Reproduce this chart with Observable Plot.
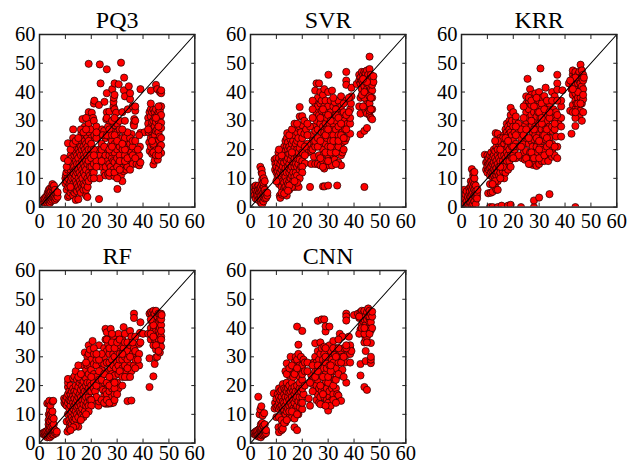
<!DOCTYPE html>
<html><head><meta charset="utf-8">
<script src="https://cdn.jsdelivr.net/npm/d3@7"></script>
<script src="https://cdn.jsdelivr.net/npm/@observablehq/plot@0.6"></script>
<style>
html,body{margin:0;padding:0;background:#fff}
#chart{position:relative;width:641px;height:464px;overflow:hidden}
#chart>div{position:absolute}
svg{display:block;background:transparent;overflow:visible}
</style></head><body><div id="chart"></div>
<script>
const tickValues=[0,10,20,30,40,50,60];
const diagonal=[0,60];
const pq3=[[1,2],[1.5,2.6],[2,1.5],[2,3.1],[2.6,2],[2.5,3.6],[3,1.5],[3.1,2.6],[3,4.1],[3.2,5],[3.5,2],[3.6,3],[3.5,4.6],[3.6,6],[4,1.4],[4.1,2.5],[4,3.5],[4,5],[4.1,6.5],[4.5,2],[4.6,3],[4.5,4],[4.4,5.5],[5,2.5],[5.1,3.5],[5,4.6],[5,6],[4.9,7],[5,8],[5.6,3],[5.5,4.5],[5.5,6.5],[5.6,7.5],[6,2.5],[6.1,3.5],[6,5],[6,6],[6.5,3],[6.6,4.5],[7,3.6],[7,5.1],
[9.5,17],[10,10],[10,8.2],[10.2,11],[10.5,9],[10.5,6],[10.4,12],[11,3.5],[11,22.2],[11.1,7],[11,10],[11,13],[11.5,4],[11.6,8],[11.5,15],[12,5],[12.1,9],[12,11],[12,13],[12.2,16],[12,18],[12.5,6],[12.6,10],[12.5,14],[12.4,17],[13,4],[13,8],[13.1,12],[13,15],[13.2,20],[13,24],[13,27],[13.5,5],[13.6,7],[13.5,10],[13.4,14],[13.5,18],[14,2.5],[14,6],[14.1,9],[14,11],[14,13],[14.1,16],[14,19],[14,21],[14.5,5.5],[14.5,8],[14.6,12],[14.5,15],[14.5,18],[15,2.7],[15,7],[15.1,10],[15,13],[15,17],[15.1,20],[15.5,6],[15.6,9],[15.5,12],[15.4,15],[15.5,19],[15.6,22],[16,5],[16,8],[16.1,11],[16,14],[16,18],[16,21],[16.2,25.6],[16.5,7],[16.6,10],[16.5,13],[16.5,16],[16.4,20],[16.6,30.6],[17,6],[17,8],[17.1,12],[17,15],[17,18],[17,21],[17.1,24],[17.5,7.5],[17.6,11],[17.5,14],[17.4,17],[17.5,20],[17.5,23],[17.5,28],[18,4],[18,6],[18.1,9],[18,13],[18,16],[18,19],[18,22],[18.1,25],[18.5,3.5],[18.6,7],[18.5,10],[18.5,15],[18.4,18],[18.5,21],[18.5,24.5],[19,9],[19.1,12],[19,16],[19,20],[19.1,26],[19,29],[19,33],[19,49.8],[19.5,11],[19.5,14],[19.6,18],[19.5,23],[20,10],[20.1,14],[20,17],[20,24],[20,27],[20.2,32.8],[20.5,12],[20.7,31],[21,15],[21.2,25],[21,30],[21,36],[21.2,37],[22,28],[22,16],[23,2.8],[23.2,10],[23,35.5],[23.3,49.6],[23,20],[23.6,18],[23.5,25],[23.6,43],
[24,14],[24.2,27],[25,12],[25,15.5],[25,17],[25,26.5],[25.1,36.6],[25.5,11],[25.6,14],[25.5,18],[25.5,24],[25.8,30.5],[26,33],[26,39.6],[26,47.9],[26.3,16],[26.4,20],[26.5,11.5],[26.5,28],[27,33.2],[27,10.8],[27,15],[27,18],[27.1,24.5],[27.2,30],[27.5,21.5],[27.5,14],[28,12],[28,17],[28,19],[28,23],[28,27],[28.1,41],[28.5,13],[28.5,16],[28.5,26],[28.6,35],[28.6,36.6],[28.7,38],[29,10.7],[29,15.6],[29,19],[29.1,22],[29,28.5],[29,34],[29,39],[29,43],[29.6,32.8],[30,12.5],[30.1,6.3],[30,17],[30,20],[30,26],[30,29],[30.6,42.7],[30.5,13.5],[30.5,15],[31,18],[31,21],[31,23.8],[31,27],[31.5,50.2],[31.5,11],[32,14],[32,16],[32.1,20],[32,24],[32,33],[32,9],[32.6,40.6],[32.7,45],[32.5,12.5],[33,18],[33,22],[33,26],[33,38.5],[33.5,15],[33.5,13],[34,20],[34,23],[34,14],[34.1,34],[34.5,42],[35,17],[35,22],[35,37.5],[35,39.6],[35.6,25.4],[35.5,19],[36,15],[36,35],[36,21],[36.6,30.6],[36.4,29],[36.5,28.3],[37,33.5],[37,30],[37,35],[37,19],[37.5,15],[38,17],[38.5,14.5],[38.5,18],[38.8,21],[39,25.8],[39,41],[39,15.5],[40.5,26],
[42,31],[42.2,26],[42,29],[42.4,22.5],[42.5,33],[42.6,19.5],[43,40.5],[43,34],[43,31.5],[43.1,28],[43,24],[43,21],[43.5,33],[43.5,29.5],[43.5,26],[43.5,18.5],[44,14.8],[44,34],[44,30],[44.1,27],[44,24.5],[44,21.5],[44.5,16.2],[44.5,33],[44.5,31],[44.5,28],[44.6,25],[44.5,19],[45,42.5],[45,34],[45,29.5],[45,26.5],[45,23],[45.1,20],[45.5,41],[45.5,32],[45.5,27],[45.5,22],[45.6,18],[45.7,16.5],[46,33],[46,30],[46,26],[46,23],[46.5,40],[46.6,35],[46.5,33.5],[46.5,31],[46.5,28],[46.5,24.5],[46.5,21],[46.7,19],[47,39.6],[47,40.6],[47,35],[47,32],[47,29.3],[47,27.5],[47,24],[47,21.5],[47,18.8],
[10.5,14],[11,16],[12,7],[12,20],[13,22],[14,23],[15,24],[16,27],[17,26],[18,27],[18,31],[19,23],[20,20],[20,22],[21,20],[21,18],[21,12],[21,10],[22,14],[22,24],[22,26],[24,16],[24,20],[24,22],[24.5,25],[25,21],[26,25],[26,31],[27,12],[27,20],[27,27],[28,21],[28,25],[28,30],[29,12],[29,25],[30,23],[30,10],[30,14],[31,16],[31,13],[33,20],[33,16],[33,24],[34,17],[35,24],[35,13],[36,18],[36,23],[37,23],[37,17],[38,20],[38.5,25],[34,26],[32,27],[32,22],[31,30],[33,30],[29,31],[43,36],[44,22],[44,19],[45,18],[46,18],[46,20],[46,28],[43.5,23],[45,31],[46,35],[42,27]];
const svr=[[1,5],[1.3,7],[1.5,4],[2,6],[2,3],[2,7.5],[2.5,5],[2.5,4],[2.7,7],[3,2.5],[3,4],[3,6],[3.1,7.5],[3.5,3],[3.5,5],[3.6,6.5],[4,1.5],[4,2.8],[4,4],[4.1,5.5],[4,7],[3.8,14],[4.3,12],[4.3,13],[4.5,1],[4.5,3],[4.6,4.5],[4.5,6],[4.5,8],[4.5,9.5],[4.5,11.5],[5,2],[5,3.5],[5,5],[5.1,7],[5,8.5],[5.1,10],[5.5,3],[5.5,4.5],[5.5,6],[5.5,9],[6,3.2],[6,5],[6.5,4],[6.5,5],
[9.3,16.5],[9.5,13],[9.6,15],[10,12],[10,14],[10,17],[10.5,10.5],[10.5,12.5],[10.5,15.5],[10.8,19],[11,8],[11,11],[11,13.5],[11,17],[11.3,4],[11.5,9],[11.5,12],[11.5,15],[11.5,3.2],[12,7],[12,10],[12,13],[12,16],[12.2,4.3],[12.5,9],[12.5,11.5],[12.5,14],[12.5,17],[12.5,20],[13,6.5],[13,8.5],[13,12],[13,15.5],[13,18],[13,21],[13.5,7],[13.5,10.5],[13.5,13.5],[13.5,17],[13.5,19.5],[13.5,23],[14,6],[14,9],[14,12],[14,16],[14,18],[14,21],[14,24],[14.2,25.7],[14.5,8],[14.5,14],[14.5,17],[14.5,20],[14.5,22.5],[15,9],[15,12],[15,15],[15,18.5],[15,21],[15.5,10],[15.5,13],[15.5,16.5],[15.5,20],[15.5,23.5],[16,11],[16,14],[16,18],[16,22],[16,25],[16.5,9],[16.5,12],[16.5,15.5],[16.5,19],[16.5,23],[17,10.5],[17,14],[17,17],[17,20.5],[17,25],[17.2,7],[17.5,12],[17.5,15],[17.5,18.5],[17.5,22],[17.5,28],[18,11],[18,14],[18,17],[18,20],[18,23],[18,26],[18.6,7],[18.5,15],[18.5,19],[18.5,24],[18.5,27.5],[19,13],[19,16.5],[19,20.5],[19,28],[19,31.5],[19,34.8],[19.5,14],[19.5,22],[19.5,26],[20,16],[20,24],[20,28.5],[20,31.6],[20.8,25.5],[20.8,30],[21,15.2],[21.5,27],[22,19],
[23,7],[23.3,25],[23.5,19.5],[23.5,15],[24.5,28],[24.5,17.5],[25,36],[25,40.5],[25,15],[25,26.5],[25.5,43],[25.5,33],[25.6,30],[26,38],[26,35],[26,27],[26,15],[26.5,43],[26.5,18],[26.5,32],[27,29],[27,36],[27,14.5],[27,40],[27.5,21],[27.5,26],[27.5,33.5],[27.5,37],[28,7.2],[28,16],[28,20],[28,24],[28,28],[28,31],[28,39],[28.6,7.2],[28.5,13.4],[28.5,18.5],[28.5,26],[28.5,35],[28.5,41],[29,22],[29,29],[29,33],[29,37],[29.5,15],[29.5,24],[29.5,27],[29.5,31],[30,7.5],[30,18],[30,21],[30,35],[30,40],[30.1,46],[30.5,14.5],[30.5,25],[30.5,29],[31,16],[31,23],[31,33],[31,37],[31.5,14.5],[31.5,27],[31.5,31],[31.5,40.5],[32,18],[32,21],[32,25],[32,29],[32,35],[32.5,16.5],[32.5,32],[32.5,36.5],[33,23],[33,27],[33,30],[33.5,7.5],[33.5,34],[34,19],[34,15.5],[34,25],[34,28],[34,37],[35,14.5],[35,18],[35,32],[35,35],[35,38.5],[35.5,22.5],[35.5,26],[35.5,19],[36,30],[36,33],[36.5,23],[36.5,27],[37,47],[37,44],[37,42.5],[37,37],[37,24],[37.5,29],[38.5,25.5],[38.5,29],[38.5,31],[38.5,34],[38.8,36],[39,38.5],[39,41.5],[41,42.8],
[42,35],[42.5,25.3],[42.5,32.5],[42,44],[42,46],[42.5,38],[42.5,43],[42.5,45],[43,47],[43,41],[43,44],[43.5,38.5],[43.5,46],[43.5,43],[44,7],[44,26.5],[44,42],[44,45],[44,47],[44.5,40],[44.5,43.5],[44.5,46.5],[44.5,33.5],[45,27.5],[45,37],[45,32.5],[45,41],[45,45],[45,47.5],[45.5,35],[45.5,39],[45.5,43],[45.5,46],[46,52.3],[46,32],[46,33.5],[46,36],[46,40.3],[46,42],[46,44.5],[46,48],[46.5,31],[46.5,41],[46.5,43.5],[46.5,46],[47,30.5],[47,34],[47,40.5],[47,42.5],[47,45],[47.5,43.5],[47.5,45.5],
[23,21],[24,20],[24,23],[25,21],[25,23],[26,21],[26,24],[23,28],[22,25],[22,29],[22,22],[24,31],[24,34],[24,37],[27,23],[27,31],[27,17],[28,34],[28,14],[29,19],[29,25],[30,16],[30,32],[30,27],[31,19],[31,21],[31,30],[32,23],[32,38],[33,19],[33,34],[33,32],[34,21],[34,31],[34,23],[35,25],[35,29],[36,20],[36,24],[36,36],[33,15],[37,32],[37,27],[38,33],[38,38],[43.5,35],[44,38],[46.5,34],[47,38],[43,39],[45,43.5],[44,40],[46,38.5],[46.5,38],[43.5,44.5],[10,9],[12,5],[14,4],[15,6],[16,7],[13,4.7],[15,7.5],[14.5,5.7],[12,18],[11,20],[15,25],[16,27],[17,29],[18,29],[16,19],[20,19],[20,14],[20,12],[21,21],[21,18],[19,10],[18,8.5],[17,9]];
const krr=[[0.8,1],[1,6],[1.3,3],[1.5,4.5],[2,5.5],[2,2],[2,0.5],[2.5,3.5],[2.5,1],[3,0.3],[3,2.5],[3,4.5],[3,6.5],[3.2,5.5],[3.5,1.5],[3.5,3.5],[3.5,7],[3.6,9],[4,0.5],[4,2.5],[4,4.5],[4,6],[4,8],[4,13.2],[4.5,1],[4.5,3],[4.5,5],[4.5,7],[4.5,9],[4.5,11],[4.6,12],[5,2],[5,4],[5,6],[5,8],[5,10],[5,12.2],[5.5,1],[5.5,3.5],[5.5,5.5],[5.5,7.5],[6,4],[6,5],[6.2,6],[6,3],
[9,18.2],[9.5,13],[9.5,15.5],[10,12],[10,14],[10,16],[10,18],[10.3,4.8],[10.5,13],[10.5,15],[10.5,17],[11,0],[11,11],[11,13.5],[11,15.5],[11,18],[11.3,5],[11.5,12],[11.5,14],[11.5,16],[11.5,19],[12,0],[12,5.3],[12,10.5],[12,12.5],[12,15],[12,17.5],[12.5,11],[12.5,13],[12.5,15.5],[12.5,18],[12.5,20],[13,7],[13,10],[13,12.5],[13,14.5],[13,17],[13,19.5],[13.2,25.7],[13.5,6],[13.5,11],[13.5,13.5],[13.5,16],[13.5,21],[14,0],[14,6],[14,12],[14,15],[14,18],[14,20],[14,25.5],[14.5,11],[14.5,14],[14.5,17],[14.5,22],[15,12],[15,16],[15,19],[15,24],[15.5,0.5],[15.5,14],[15.5,18],[15.5,21],[16,12.5],[16,16],[16,20],[16,23],[16.5,10],[16.5,15],[16.5,18],[16.5,22],[16.5,25],[17,12],[17,14],[17,17],[17,20],[17,27],[17.5,16],[17.5,19],[17.5,23],[17.5,26],[17.5,29],[18,0.5],[18,13],[18,18],[18,21],[18,25],[18,28],[18.5,16],[18.5,20],[18.5,24],[18.5,27],[18.5,30],[19,0.8],[19,14],[19,18],[19,22],[19,26],[19,29],[19,32],[19,34.5],[19.5,17],[19.5,21],[19.5,25],[19.5,30],[20,18],[20,23],[20,28],[20,33],[20.5,20],[20.5,26],[21,17],[21,22],[21,30],[21,31.5],
[23,0],[23.5,17],[23.5,25.5],[24,19],[24,22],[24,28],[24.5,16.5],[24.5,28.5],[25,19.5],[25,24],[25,30],[25,33],[25,36],[25,38.5],[25.5,44.6],[25.8,17.5],[26,22],[26,27],[26,31],[26,34],[26,37],[26.5,15],[26.5,41],[26.5,19],[27,23],[27,28],[27,32],[27,35.5],[27,39],[27.5,14.7],[27.5,17],[27.5,21],[27.5,26],[28,0],[28,2.3],[28,19],[28,23.5],[28,30],[28,33],[28,37],[28.5,15],[28.5,25],[28.5,28],[28.5,39.5],[29,14.3],[29,17],[29,21],[29,31.5],[29,35],[29.5,19],[29.5,23],[29.5,27],[29.5,33],[30,3.3],[30,15],[30,25],[30,29],[30,37],[30,40],[30.5,48.2],[30.5,21],[30.5,31],[31,16],[31,19],[31,23],[31,27],[31,34],[31,38],[31.5,25],[31.5,29],[32,16],[32,20],[32,32],[32,36],[32,38.6],[32.5,23.5],[32.5,27],[32.5,41.5],[33,18],[33,21],[33,30],[33,34.5],[33.5,16],[33.5,26],[34,4.5],[34,24],[34,28],[34,36],[35,17.5],[35,19.5],[35,22],[35,26.5],[35,31],[35,40],[35.5,34],[36,18],[36,38.5],[36.5,24.5],[36.5,30],[36.5,33],[37,46],[37,43],[37,40.8],[37,17],[37,21],[37.5,29],[38.5,24.5],[38.5,28],[38.5,31],[38.5,35],[38.5,37],[39,40.6],
[41.5,43],[42,33.5],[42.5,25.5],[42.5,41],[42.5,44],[43,35.5],[43,39],[43,43],[43,46],[43,47.5],[43.5,41],[43.5,45],[44,0],[44,28.2],[44,34],[44,37],[44,39.5],[44,43],[44,47],[44.5,36],[44.5,41],[44.5,44.5],[45,32],[45,34],[45,38],[45,43],[45,46],[45.5,31.5],[45.5,36],[45.5,40],[45.5,44],[45.5,47],[46,33.5],[46,38],[46,41],[46,43],[46,45],[46,49.5],[46.5,30],[46.5,36],[46.5,40],[46.5,42],[46.5,45.5],[46.5,47.5],[47,37.5],[47,41],[47,44],[47,46],[47.3,45],
[22,18],[22,21],[22,26],[22,29],[23,21],[23,24],[23,27],[24,25],[24,31],[24,35],[25,17],[25,27],[26,38],[26,15],[26,24],[27,19],[27,37],[27,30],[28,27],[28,35],[28,17],[29,24],[29,38],[30,17],[30,20],[30,23],[30,33],[31,29],[31,31],[31,36],[32,25],[32,18],[32,34],[33,24],[33,27],[33,37],[34,22],[34,19],[34,31],[34,33],[35,28],[35,37],[36,21],[36,27],[36,29],[37,37],[37,32],[16,14],[15,14],[14,9],[13,9],[15,10],[15,20],[16,24],[17,24],[18,23],[20,21],[21,25],[21,28],[20,17],[14,23],[13,23],[11,8],[12,8],[44,31],[43,33],[45,36],[45,40],[46,36],[47,33],[44,45],[43,41],[47,39],[42,44],[44,33]];
const rf=[[1,3.3],[1.5,3.5],[2,2.8],[2,3.8],[2.5,2.5],[2.5,4],[3,2],[3,3],[3,4.3],[3,13.8],[3.4,2.5],[3.5,3.8],[3.5,5],[3.5,6.5],[3.5,8],[3.6,10],[3.7,13.5],[3.8,14.7],[4,2],[4,3],[4,4.5],[4,6],[4,7.5],[4,9.5],[4,11.5],[4.2,13],[4.5,2.5],[4.5,3.8],[4.5,5.5],[4.6,8],[4.5,10],[5,3],[5,4],[5,6],[5,9],[5,11],[5,14.5],[5.3,14.7],[5.5,3],[5.5,4.2],[5.5,6.5],[5.5,8.5],[6,3.5],[6,4.5],[6.5,3.5],[6.7,4],
[9.5,15.5],[9.6,14],[10,13.5],[10,15],[10.5,7.5],[10.5,13],[10.5,16],[10.8,4],[11,10],[11,14],[11,17],[11,19.5],[11,21],[11,22.3],[11.5,5],[11.5,8],[11.5,12],[11.5,15],[11.5,18],[11.8,6],[12,7],[12,10],[12,13],[12,14.8],[12,17],[12,20],[12.5,6.5],[12.5,9],[12.5,11],[12.5,15.5],[12.5,18],[13,8],[13,12],[13,14],[13,16.5],[13,19],[13,22.5],[13.5,7.5],[13.5,10],[13.5,13],[13.5,15.5],[13.5,18],[13.5,23.2],[14,8.5],[14,11],[14,14],[14,17],[14,20],[14.5,10],[14.5,12.5],[14.5,15],[14.5,18],[14.5,22],[15,5.7],[15,9],[15,13],[15,16],[15,19.5],[15.5,11],[15.5,14],[15.5,17],[15.5,21],[16,10.5],[16,13],[16,16],[16,18.5],[16,22],[16.5,9.7],[16.5,12],[16.5,15],[16.5,20],[17,13.5],[17,17],[17,19],[17,21.5],[17,24],[17,27],[17.5,11],[17.5,15],[17.5,18],[17.5,23],[17.5,31.5],[18,13],[18,16],[18,20],[18,22.5],[18,25.5],[18.5,14],[18.5,18],[18.5,21],[18.5,27],[18.5,30],[19,13],[19,16],[19,19],[19,24],[19,31],[19,34],[19.5,15],[19.5,18],[19.5,21],[19.5,27],[19.5,32.5],[20,18],[20,20],[20,25.5],[20,29],[20.5,35.5],[21,15],[21,19],[21,27.5],[21.5,18],[22,27],[22,29],
[22.8,13],[23,34],[23,14.5],[23.5,19.5],[24,25.5],[24,28],[24.5,18.5],[25,16.5],[25,21],[25,27.5],[25,30],[25,33],[25.5,13.7],[25.5,18],[25.5,36],[25.5,39.7],[26,17],[26,24],[26,28],[26,32],[26,38.5],[26.5,20],[26.5,13.7],[26.5,25],[26.5,34.5],[27,18],[27,28],[27,31],[27,36],[27.5,39.7],[27.5,21],[27.5,13.8],[27.5,26],[28,16],[28,19],[28,24],[28,29],[28,33],[28.5,21],[28.5,14],[28.5,27],[28.5,31],[28.5,37],[29,17],[29,23.5],[29,30],[29.5,19],[29.5,26],[29.5,35],[30,21],[30,28],[30,32],[30.5,19],[30.5,24],[30.5,27],[30.5,38],[31,29],[31,34],[31.5,31],[32,20],[32,26],[32,29],[32,36],[32.5,24],[32.5,33],[32.5,40.3],[33,27],[33,30],[33,38],[33.5,25],[34,23],[34,14.6],[34,29],[34,32],[35,27],[35,34],[35,39],[35.5,14.8],[35.5,25],[35.5,37],[36,31],[36.5,45],[36.5,43.5],[36.5,27],[36.5,33],[37,29],[37,32],[38.5,27],[38.5,31],[38.5,34.5],[38.8,38.3],[39,35],[39,42],[40,38],
[42,38],[42.5,19.5],[42.5,29.5],[42.5,45],[43,36],[43,40],[43,45.5],[43.5,37.5],[43.5,42],[43.5,45],[44,23.2],[44,34],[44,39],[44,44],[44,46],[44.5,27.5],[44.5,36],[44.5,42],[44.5,45],[45,29.8],[45,32.5],[45,36],[45,39],[45,43],[45,46],[45.5,30],[45.5,37],[45.5,41],[45.5,44],[46,33],[46,36],[46,39],[46,42],[46,45],[46.5,31.5],[46.5,34.5],[46.5,38],[46.5,40],[46.5,43],[46.5,45],[47,33.5],[47,37],[47,41],[47,43],[47,45],[47.2,44.5],
[21,21],[21,24],[22,16],[22,20],[22,23],[23,25],[23,29],[23,22],[24,15],[24,22],[24,31],[25,24],[25,14],[26,21],[26,15],[26,36],[27,14],[27,20],[27,23],[27,33],[28,35],[28,38],[29,15],[29,19],[29,21],[29,33],[30,17],[30,35],[31,25],[31,31],[31,36],[32,23],[32,31],[33,35],[33,23],[34,26],[34,35],[35,23],[35,30],[36,35],[37,37],[37,26],[38,29],[14,25],[15,23],[16,24],[17,9],[16,8],[14,6],[13,5.5],[12,4.5],[20,23],[20,15],[20,13],[19,11],[18,10],[15,27],[18,28],[21,31],[21,33],[22,31],[44,41],[43,38],[45,34],[46,32],[47,36],[47,39],[44,37],[43,43]];
const cnn=[[1,3.3],[1.5,3.6],[2,2.8],[2,4],[2.5,3],[2.5,4.3],[3,2.3],[3,3.2],[3,4.5],[3,16.1],[3.5,2.5],[3.5,3.5],[3.5,5],[3.5,10],[3.8,11.7],[4,2],[4,3],[4,4.2],[4,5.5],[4,6.5],[4.2,12.8],[4.5,2.7],[4.5,3.8],[4.5,5],[4.5,7],[4.7,9.6],[5,3],[5,4.5],[5,6],[5.3,10.4],[5.5,3.2],[5.5,4.2],[5.5,6.5],[6,3.5],[6,4.5],
[9,17.3],[9.3,12],[9.5,14],[10,12.5],[10,15.5],[10.5,13],[10.5,17],[10.8,5.5],[11,3.8],[11,11.8],[11,14],[11,16],[11,19],[11.5,12.5],[11.5,15],[11.5,18],[12,4.5],[12,5.8],[12,13],[12,16],[12,18.5],[12.5,5],[12.5,9.5],[12.5,12],[12.5,14.5],[12.5,20.5],[13,9.5],[13,11.5],[13,14],[13,17],[13,19],[13.5,7.2],[13.5,10],[13.5,13],[13.5,16],[13.5,18.5],[13.5,25],[14,11],[14,14.5],[14,18],[14,21],[14,27.7],[14.5,12],[14.5,16],[14.5,19],[15,8.8],[15,13],[15,15],[15,17.5],[15,20],[15,23.5],[15.5,11],[15.5,14],[15.5,18],[15.5,30],[16,9],[16,13],[16,16],[16,19],[16,21],[16,25.5],[16.5,12],[16.5,15],[16.5,18],[16.5,23],[17,5.5],[17,11],[17,14],[17,17],[17,19.5],[17,28],[17.5,12],[17.5,15.5],[17.5,18],[17.5,26.5],[17.5,30],[18,4.5],[18,13],[18,16],[18,20],[18,24],[18,29],[18,40.5],[18.5,10],[18.5,14.5],[18.5,18],[18.5,31],[18.5,34.2],[19,12.5],[19,16],[19,19],[19,23],[19,27],[19.5,14],[19.5,18],[19.5,25],[19.5,30],[20,11.8],[20,16],[20,27],[20,39],[20.5,17],[20.5,29],[21,28],
[22.5,15.5],[23,13],[23.5,23.5],[23.5,27.7],[24,20.5],[24.5,28],[24.5,22],[25,18],[25,25],[25,30],[25,34.7],[25.5,15],[25.5,20],[25.5,28],[26,17],[26,22],[26,32],[26,42.5],[26.5,14],[26.5,19],[26.5,29],[27,16],[27,23.5],[27,27],[27,31],[27,35],[27.5,43],[27.5,18],[27.5,33],[28,13.5],[28,20],[28,26],[28,29],[28.5,16],[28.5,19],[28.5,31],[28.5,33.5],[28.5,43],[29,17.5],[29,21.5],[29,24],[29,28],[29,38.8],[29,40.6],[29.5,15],[29.5,19],[29.5,26],[30,11.3],[30,30],[30.5,16],[30.5,18],[30.5,27],[30.5,34],[30.5,40.5],[31,20.5],[31,23],[31,32],[31.5,15],[31.5,19],[31.5,29],[32,17],[32,25],[32,28],[32,35.5],[32.5,14.5],[32.5,22],[32.5,31],[33,19],[33,26],[33,33],[33.5,17],[34,16.5],[34,28],[34,30.5],[34.5,38],[35,14.7],[35,23.5],[35,32],[35.5,25.5],[35.5,30],[35.5,37],[36,33],[36.5,28],[37,45],[37,44],[37,42.6],[37,21],[37,30.5],[38.5,28],[38.5,31],[38.5,33],[38.5,34],[39,32],[40,44.5],
[41.5,45],[42,43.5],[42.5,27.5],[42.5,23.5],[42.5,39.5],[42.5,45.5],[43,41],[43,44],[43,46],[43.5,38],[43.5,42.5],[43.5,45],[44,19.5],[44,35],[44,43],[44,46],[44.5,28.5],[44.5,32],[44.5,36.5],[44.5,41],[44.5,44],[45,18.5],[45,37],[45,39],[45,43],[45,45.5],[45.5,40],[45.5,44],[45.5,46.8],[46,42],[46,44],[46,46],[46.5,27.8],[46.5,29],[46.5,30],[46.5,34.8],[46.5,39.2],[46.5,42],[46.5,45],[47,44],[47,45.7],
[10,9],[11,9],[12,8],[13,7],[14,8],[15,11],[14,24],[15,26],[16,27],[16,11],[17,24],[17,8.5],[18,10],[18,26],[19,21],[20,22],[20,19],[20,14],[20,24],[21,20],[21,25],[22,25],[22,28],[23,21],[24,27],[24,18],[25,23],[26,25],[26,27],[27,20],[28,23],[28,17],[29,30],[29,33],[30,21],[30,14],[30,23],[31,25],[31,27],[32,20],[32,33],[33,22],[33,30],[34,24],[34,33],[34,36],[35,28],[36,30],[36,23],[37,33],[37,34],[38,37],[31,13],[27,13.5],[29,13],[32,15],[33,14],[42,38],[44,38],[45,35],[46,38],[47,40],[43,40],[42,44],[44,40]];

const panels=[
 {name:"PQ3",pts:pq3,left:0,top:0,pad:9.85},
 {name:"SVR",pts:svr,left:211,top:0,pad:9.85},
 {name:"KRR",pts:krr,left:421.5,top:0,pad:9.85},
 {name:"RF",pts:rf,left:0,top:235.7,pad:6.6},
 {name:"CNN",pts:cnn,left:211,top:235.7,pad:6.6}
];
const host=document.getElementById("chart");
for(const p of panels){
 const fig=Plot.plot({
  width:212,height:228.3,marginLeft:39,marginRight:17.7,marginTop:34,marginBottom:21.7,
  x:{domain:[0,60],ticks:tickValues},y:{domain:[0,60],ticks:tickValues},
  style:{fontFamily:"'Liberation Serif',serif",background:"transparent",color:"#000"},
  marks:[
   Plot.dot(p.pts,{x:d=>d[0],y:d=>d[1],r:3.6,fill:"#ff0000",stroke:"#1a0000",strokeWidth:0.7,clip:true}),
   Plot.line(diagonal,{x:d=>d,y:d=>d,stroke:"#000",strokeWidth:1.1}),
   Plot.frame({stroke:"#222",strokeWidth:1.5}),
   Plot.axisX(tickValues,{anchor:"bottom",tickSize:-4,tickPadding:p.pad,fontSize:20.5,label:null,stroke:"#222"}),
   Plot.axisY(tickValues,{anchor:"left",tickSize:-4,tickPadding:8,fontSize:20.5,label:null,stroke:"#222"}),
   Plot.axisX(tickValues,{anchor:"top",tickSize:-4,tickFormat:()=>"",label:null,stroke:"#222"}),
   Plot.axisY(tickValues,{anchor:"right",tickSize:-4,tickFormat:()=>"",label:null,stroke:"#222"}),
   Plot.text([p.name],{text:d=>d,frameAnchor:"top",dy:-6,lineAnchor:"bottom",fontSize:24,fill:"#000"})
  ]
 });
 const wrap=document.createElement("div");
 wrap.style.left=p.left+"px";wrap.style.top=p.top+"px";
 wrap.appendChild(fig);host.appendChild(wrap);
}
</script></body></html>
